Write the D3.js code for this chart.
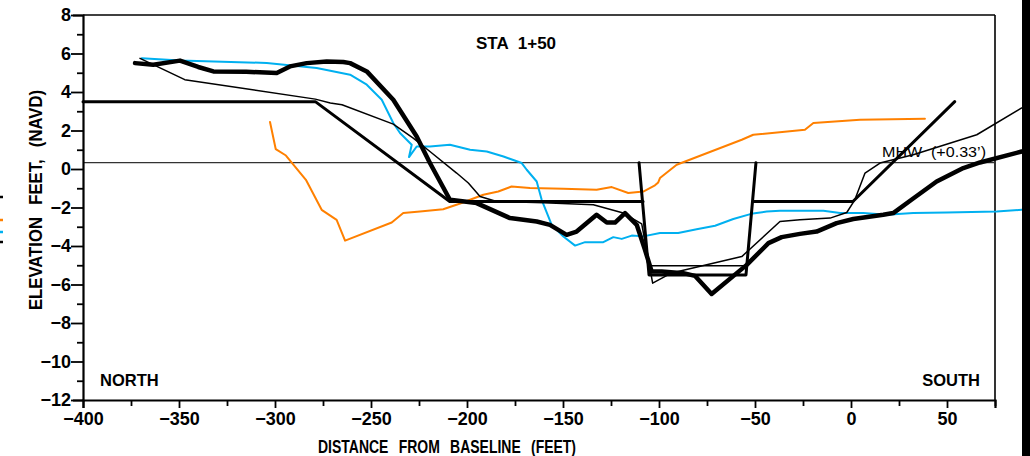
<!DOCTYPE html>
<html><head><meta charset="utf-8">
<script src="https://cdn.jsdelivr.net/npm/d3@7"></script>
<style>html,body{margin:0;padding:0;background:#fff;overflow:hidden}</style>
</head><body>
<svg id="c" width="1030" height="456"></svg>
<script>
// ---- data ----
const title = "STA 1+50";
const xTicksMajor = [-400,-350,-300,-250,-200,-150,-100,-50,0,50];
const xTicksMinor = [-375,-325,-275,-225,-175,-125,-75,-25,25,75];
const yTicksMajor = [-12,-10,-8,-6,-4,-2,0,2,4,6,8];
const yTicksMinor = [-11,-9,-7,-5,-3,-1,1,3,5,7];
const mhw = 0.33;

const orangeSurvey = [[-302.6,2.44],[-299.6,1.03],[-294.3,0.7],[-283.9,-0.56],[-275.7,-2.12],[-267.9,-2.64],[-263.5,-3.72],[-239.2,-2.78],[-233.2,-2.29],[-224.5,-2.21],[-212.4,-2.09],[-202.8,-1.77],[-198.4,-1.6],[-191.5,-1.34],[-183.7,-1.17],[-176.8,-0.91],[-167.2,-0.99],[-149.8,-1.03],[-132.5,-1.08],[-124.6,-0.94],[-116,-1.25],[-108.2,-1.17],[-102.1,-0.85],[-100.4,-0.7],[-99.5,-0.47],[-90.8,0.22],[-78.6,0.69],[-56.9,1.52],[-50.9,1.78],[-24,2.04],[-19.6,2.39],[4.7,2.56],[38.5,2.61]];

const blueSurvey = [[-369.4,5.75],[-349.5,5.63],[-304.3,5.51],[-278.3,5.25],[-260.9,4.9],[-252.2,4.38],[-244.4,3.6],[-238.4,2.39],[-234.9,1.87],[-228.8,1.26],[-230.2,0.62],[-226.2,1.17],[-219.3,1.17],[-208.9,1.26],[-198.4,1.0],[-189.7,0.91],[-181,0.65],[-171.5,0.31],[-168.9,-0.04],[-163.7,-0.65],[-161.1,-1.6],[-155.9,-2.9],[-149.8,-3.51],[-143.7,-3.98],[-138.5,-3.8],[-129,-3.8],[-123.8,-3.54],[-119.4,-3.63],[-114.2,-3.46],[-108.2,-3.5],[-99.5,-3.33],[-90,-3.33],[-80.4,-3.13],[-70.8,-2.95],[-61.3,-2.6],[-52,-2.33],[-43.9,-2.21],[-37,-2.17],[-14.4,-2.17],[-5.7,-2.29],[6.4,-2.29],[18.6,-2.38],[32.4,-2.29],[49.8,-2.26],[75.9,-2.21],[88.9,-2.12]];

const thinSurvey = [[-370.3,5.75],[-347,4.64],[-279,3.63],[-271.2,3.43],[-265.1,3.34],[-238.4,2.33],[-228,1.6],[-219.3,0.91],[-205.4,-0.21],[-199.3,-0.73],[-193.2,-1.43],[-185,-1.68],[-160,-1.75],[-134.2,-1.86],[-118.6,-2.29],[-109,-2.85],[-103.3,-5.93],[-93.4,-5.4],[-56.9,-4.55],[-37,-2.73],[-26.6,-2.64],[-10.9,-2.55],[-2.2,-2.26],[2,-1.6],[7.3,-0.21],[15.1,0.31],[32.4,0.74],[65.5,1.78],[88.9,3.17]];

const thickSurvey = [[-372.9,5.5],[-363.4,5.42],[-349.5,5.63],[-340,5.3],[-332.1,5.07],[-315,5.05],[-299.1,4.99],[-292.2,5.33],[-283.5,5.5],[-273.1,5.59],[-264.4,5.56],[-260.9,5.5],[-252.2,5.07],[-238.4,3.6],[-226.2,1.69],[-219.3,0.31],[-208.9,-1.6],[-195,-1.77],[-177.6,-2.55],[-163.7,-2.73],[-156.8,-2.9],[-148.1,-3.42],[-142.9,-3.25],[-132.5,-2.38],[-127.2,-2.78],[-122.9,-2.78],[-117.7,-2.29],[-111.6,-2.9],[-107.3,-4.2],[-103.8,-5.33],[-98.6,-5.33],[-87.3,-5.41],[-81.3,-5.55],[-72.6,-6.49],[-54.3,-4.98],[-43,-3.85],[-36.1,-3.54],[-26.6,-3.37],[-17.9,-3.25],[-7.5,-2.81],[1.2,-2.6],[16.8,-2.38],[22,-2.29],[31.5,-1.6],[44.6,-0.65],[58.5,0.05],[67.2,0.34],[88.9,0.91]];

const templateNorth = [[-400,3.5],[-279,3.5],[-209,-1.69],[-108.3,-1.69]];
const templateChannel = [[-110.4,0.33],[-105.2,-5.5],[-54.7,-5.5],[-49.5,0.33]];
const templateSouth = [[-50.8,-1.69],[1,-1.69],[54,3.5]];
const channelLine5 = [[-104,-5.03],[-54.9,-5.03]];

const legendColors = ["#000000","#ff8000","#00b0f0","#000000"];

// ---- drawing ----
const svg = d3.select("#c");
const L = 83, R = 995, T = 15, B = 400;
const x = d3.scaleLinear().domain([-400,75]).range([L,R]);
const y = d3.scaleLinear().domain([-12,8]).range([B,T]);
const font = "'Liberation Sans', Arial, sans-serif";

// frame top & right
svg.append("line").attr("x1",L).attr("x2",R).attr("y1",T).attr("y2",T).attr("stroke","#000").attr("stroke-width",1.6);
svg.append("line").attr("x1",R).attr("x2",R).attr("y1",T).attr("y2",B).attr("stroke","#000").attr("stroke-width",1.6);

// MHW line
svg.append("line").attr("x1",L).attr("x2",R).attr("y1",y(mhw)).attr("y2",y(mhw)).attr("stroke","#333").attr("stroke-width",1.4);

const line = d3.line().x(d=>x(d[0])).y(d=>y(d[1]));
function draw(data, color, w){
  svg.append("path").datum(data).attr("d",line).attr("fill","none")
    .attr("stroke",color).attr("stroke-width",w).attr("stroke-linejoin","round").attr("stroke-linecap","round");
}
draw(orangeSurvey,"#ff8000",2);
draw(blueSurvey,"#00b0f0",2);
draw(thinSurvey,"#000",1.5);
draw(channelLine5,"#000",1.5);
draw(templateNorth,"#000",3);
draw(templateChannel,"#000",3);
draw(templateSouth,"#000",3);
draw(thickSurvey,"#000",4.5);

// axes
const yMaj = svg.append("g").attr("transform",`translate(${L},0)`)
  .call(d3.axisLeft(y).tickValues(yTicksMajor).tickSize(10).tickPadding(2));
const yMin = svg.append("g").attr("transform",`translate(${L},0)`)
  .call(d3.axisLeft(y).tickValues(yTicksMinor).tickSize(6).tickFormat(""));
const xMaj = svg.append("g").attr("transform",`translate(0,${B})`)
  .call(d3.axisBottom(x).tickValues(xTicksMajor).tickSize(8).tickPadding(4));
const xMin = svg.append("g").attr("transform",`translate(0,${B})`)
  .call(d3.axisBottom(x).tickValues(xTicksMinor).tickSize(6).tickFormat(""));
[yMaj,yMin,xMaj,xMin].forEach(g=>{
  g.selectAll("path.domain").attr("stroke","#000").attr("stroke-width",2.2);
  g.selectAll(".tick line").attr("stroke","#000").attr("stroke-width",1.8);
  g.selectAll("text").attr("font-family",font).attr("font-weight","bold").attr("font-size",18).attr("fill","#000");
});
yMin.select("path.domain").remove(); xMin.select("path.domain").remove();
yMaj.selectAll(".tick line").attr("x2",-12);

// texts
svg.append("text").attr("x",516).attr("y",49).attr("text-anchor","middle")
  .attr("font-family",font).attr("font-weight","bold").attr("font-size",17).attr("word-spacing",5).text(title);
svg.append("text").attr("x",100).attr("y",386).attr("font-family",font).attr("font-weight","bold").attr("font-size",16.5).text("NORTH");
svg.append("text").attr("x",980).attr("y",386).attr("text-anchor","end").attr("font-family",font).attr("font-weight","bold").attr("font-size",16.5).text("SOUTH");
svg.append("text").attr("x",882).attr("y",157).attr("font-family",font).attr("font-size",15).attr("word-spacing",4).attr("textLength",104).attr("lengthAdjust","spacingAndGlyphs").text("MHW (+0.33\u2019)");
svg.append("text").attr("x",318).attr("y",453).attr("font-family",font).attr("font-weight","bold").attr("font-size",17.5).attr("word-spacing",8)
  .attr("textLength",258).attr("lengthAdjust","spacingAndGlyphs").text("DISTANCE FROM BASELINE (FEET)");
svg.append("text").attr("transform","translate(42,310) rotate(-90)").attr("font-family",font).attr("font-weight","bold").attr("font-size",17.5).attr("word-spacing",8)
  .attr("textLength",220).attr("lengthAdjust","spacingAndGlyphs").text("ELEVATION FEET, (NAVD)");

// cut-off legend fragments at left edge
const legY = [197,220,232,242];
legendColors.forEach((c,i)=>{
  svg.append("line").attr("x1",0).attr("x2",3).attr("y1",legY[i]).attr("y2",legY[i]).attr("stroke",c).attr("stroke-width",2.5);
});

// right border bar
svg.append("rect").attr("x",1022).attr("y",0).attr("width",8).attr("height",456).attr("fill","#000");
</script>
</body></html>
